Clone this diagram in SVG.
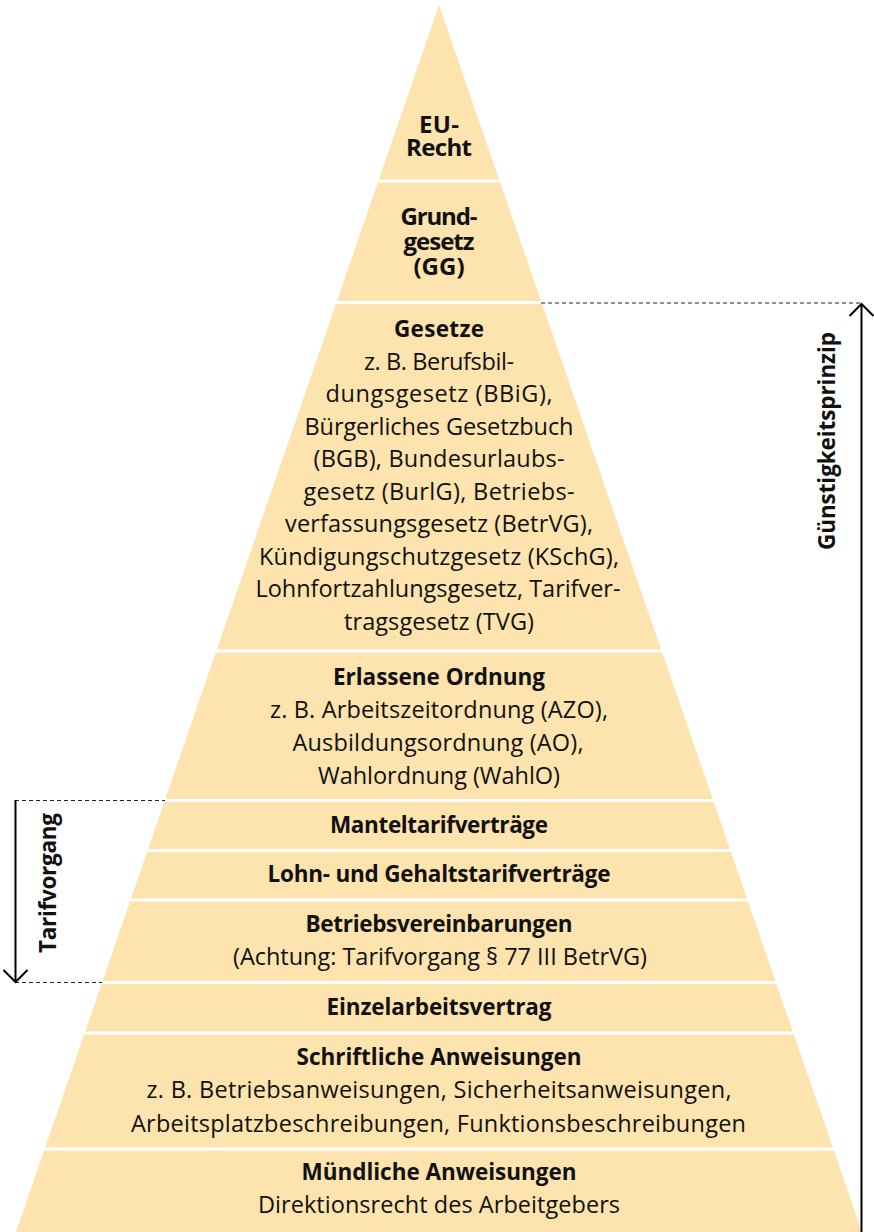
<svg xmlns="http://www.w3.org/2000/svg" width="874" height="1232" viewBox="0 0 874 1232">
<style>
.band{fill:#FDE3AD;}
text{font-family:"Open Sans","Noto Sans",sans-serif;font-size:23.5px;fill:#111;text-anchor:middle;}
.b{font-weight:bold;font-size:22.5px;}
.t{font-size:24px;}
.dash{stroke:#222;stroke-width:1;stroke-dasharray:4 3;fill:none;}
.arr{stroke:#000;stroke-width:2;fill:none;}
</style>
<rect width="874" height="1232" fill="#fff"/>
<g id="eu-recht">
<polygon class="band" points="439,5 499.15,179.5 378.85,179.5"/>
<text class="b t" x="439" y="133" textLength="40">EU-</text>
<text class="b t" x="439" y="156" textLength="66">Recht</text>
</g>
<g id="grundgesetz">
<polygon class="band" points="377.8,182.5 500.2,182.5 541.03,301 336.97,301"/>
<text class="b t" x="439" y="225" textLength="77">Grund-</text>
<text class="b t" x="439" y="250" textLength="71">gesetz</text>
<text class="b t" x="439" y="275">(GG)</text>
</g>
<g id="gesetze">
<polygon class="band" points="335.93,304 542.07,304 661.16,649.5 216.84,649.5"/>
<text class="b" x="439" y="337" textLength="90">Gesetze</text>
<text x="439" y="370" textLength="150">z. B. Berufsbil-</text>
<text x="439" y="402" textLength="227">dungsgesetz (BBiG),</text>
<text x="439" y="435" textLength="269">Bürgerliches Gesetzbuch</text>
<text x="439" y="467" textLength="251">(BGB), Bundesurlaubs-</text>
<text x="439" y="500" textLength="271">gesetz (BurlG), Betriebs-</text>
<text x="439" y="532" textLength="308">verfassungsgesetz (BetrVG),</text>
<text x="439" y="565" textLength="360">Kündigungschutzgesetz (KSchG),</text>
<text x="438" y="597" textLength="365">Lohnfortzahlungsgesetz, Tarifver-</text>
<text x="439" y="630" textLength="190">tragsgesetz (TVG)</text>
</g>
<g id="erlassene-ordnung">
<polygon class="band" points="215.81,652.5 662.19,652.5 712.69,799 165.31,799"/>
<text class="b" x="439" y="685" textLength="212">Erlassene Ordnung</text>
<text x="439" y="718" textLength="338">z. B. Arbeitszeitordnung (AZO),</text>
<text x="438" y="751" textLength="291">Ausbildungsordnung (AO),</text>
<text x="439" y="784" textLength="242">Wahlordnung (WahlO)</text>
</g>
<g id="manteltarifvertraege">
<polygon class="band" points="164.27,802 713.73,802 729.93,849 148.07,849"/>
<text class="b" x="439" y="833" textLength="218">Manteltarifverträge</text>
</g>
<g id="lohn-gehalt">
<polygon class="band" points="147.04,852 730.96,852 746.99,898.5 131.01,898.5"/>
<text class="b" x="439" y="882" textLength="343">Lohn- und Gehaltstarifverträge</text>
</g>
<g id="betriebsvereinbarungen">
<polygon class="band" points="129.98,901.5 748.02,901.5 775.43,981 102.57,981"/>
<text class="b" x="439" y="932" textLength="267">Betriebsvereinbarungen</text>
<text x="440" y="965" textLength="414">(Achtung: Tarifvorgang § 77 III BetrVG)</text>
</g>
<g id="einzelarbeitsvertrag">
<polygon class="band" points="101.54,984 776.46,984 792.84,1031.5 85.16,1031.5"/>
<text class="b" x="439" y="1015" textLength="225">Einzelarbeitsvertrag</text>
</g>
<g id="schriftliche-anweisungen">
<polygon class="band" points="84.13,1034.5 793.87,1034.5 832.82,1147.5 45.18,1147.5"/>
<text class="b" x="439" y="1065" textLength="285">Schriftliche Anweisungen</text>
<text x="439" y="1098" textLength="585">z. B. Betriebsanweisungen, Sicherheitsanweisungen,</text>
<text x="438.5" y="1132" textLength="615">Arbeitsplatzbeschreibungen, Funktionsbeschreibungen</text>
</g>
<g id="muendliche-anweisungen">
<polygon class="band" points="44.15,1150.5 833.85,1150.5 861.95,1232 16.05,1232"/>
<text class="b" x="439" y="1180" textLength="275">Mündliche Anweisungen</text>
<text x="439" y="1213" textLength="362">Direktionsrecht des Arbeitgebers</text>
</g>
<g id="connectors">
<line class="dash" x1="541" y1="303" x2="862" y2="303"/>
<line class="arr" x1="861.5" y1="304" x2="861.5" y2="1232"/>
<polyline class="arr" points="849.5,316 861.5,304 873.5,316"/>
<line class="dash" x1="15" y1="800.5" x2="165" y2="800.5"/>
<line class="dash" x1="15" y1="982.5" x2="102" y2="982.5"/>
<line class="arr" x1="15.5" y1="800" x2="15.5" y2="982"/>
<polyline class="arr" points="3.5,970 15.5,982 27.5,970"/>
</g>
<g id="label-guenstigkeitsprinzip">
<text class="b" transform="translate(835,441) rotate(-90)" x="0" y="0" textLength="218">Günstigkeitsprinzip</text>
</g>
<g id="label-tarifvorgang">
<text class="b" transform="translate(56,883) rotate(-90)" x="0" y="0" textLength="140">Tarifvorgang</text>
</g>
</svg>
